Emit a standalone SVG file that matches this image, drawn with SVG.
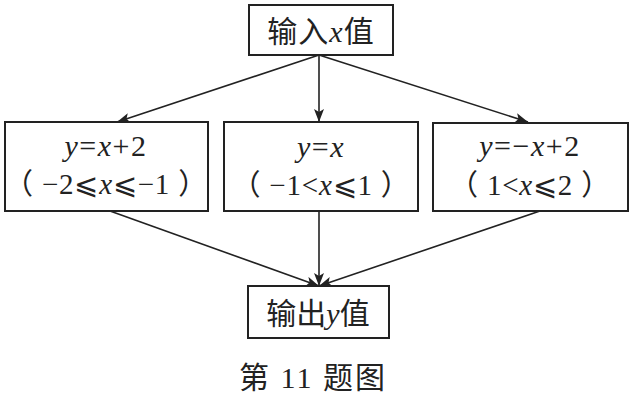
<svg xmlns="http://www.w3.org/2000/svg" width="631" height="396" viewBox="0 0 631 396">
<style>
.box{fill:#fff;stroke:#222;stroke-width:2}
.ln{stroke:#222;stroke-width:1.6;fill:none;marker-end:url(#ah)}
.t{font-family:"Liberation Serif","Noto Sans CJK SC",serif;fill:#222;text-anchor:middle}
.cn{font-size:30px}
.cap{font-size:30px;letter-spacing:2px}
.m{font-size:30px;letter-spacing:1.5px}
.m2{font-size:29px;letter-spacing:0.8px}
.i{font-style:italic}
</style>
<defs>
<marker id="ah" markerUnits="userSpaceOnUse" markerWidth="14" markerHeight="10" refX="13" refY="5" orient="auto">
<path d="M0,0 L13,5 L0,10 L3,5 Z" fill="#222"/>
</marker>
</defs>
<rect width="631" height="396" fill="#fff"/>
<g id="connectors">
<line class="ln" x1="319" y1="55" x2="117" y2="122"/>
<line class="ln" x1="319" y1="55" x2="319" y2="122"/>
<line class="ln" x1="319" y1="55" x2="528" y2="122"/>
<line class="ln" x1="110" y1="211" x2="319" y2="286"/>
<line class="ln" x1="319" y1="211" x2="319" y2="286"/>
<line class="ln" x1="540" y1="211" x2="319" y2="286"/>
</g>
<g id="input">
<rect class="box" x="249" y="5" width="144" height="50"/>
<text class="t cn" x="321" y="42" letter-spacing="1">输入<tspan class="i">x</tspan>值</text>
</g>
<g id="case1">
<rect class="box" x="5" y="122" width="203" height="89"/>
<text class="t m" x="106" y="156"><tspan class="i">y</tspan>=<tspan class="i">x</tspan>+2</text>
<text class="t m2" x="106" y="194">（ −2⩽<tspan class="i">x</tspan>⩽−1 ）</text>
</g>
<g id="case2">
<rect class="box" x="224" y="122" width="194" height="89"/>
<text class="t m" x="321" y="157"><tspan class="i">y</tspan>=<tspan class="i">x</tspan></text>
<text class="t m2" x="321" y="195">（ −1&lt;<tspan class="i">x</tspan>⩽1 ）</text>
</g>
<g id="case3">
<rect class="box" x="433" y="123" width="195" height="88"/>
<text class="t m" x="530" y="156"><tspan class="i">y</tspan>=−<tspan class="i">x</tspan>+2</text>
<text class="t m2" x="530" y="195">（ 1&lt;<tspan class="i">x</tspan>⩽2 ）</text>
</g>
<g id="output">
<rect class="box" x="248" y="286" width="141" height="52"/>
<text class="t cn" x="318" y="324">输出<tspan class="i">y</tspan>值</text>
</g>
<g id="caption">
<text class="t cap" x="313" y="388">第 11 题图</text>
</g>
</svg>
